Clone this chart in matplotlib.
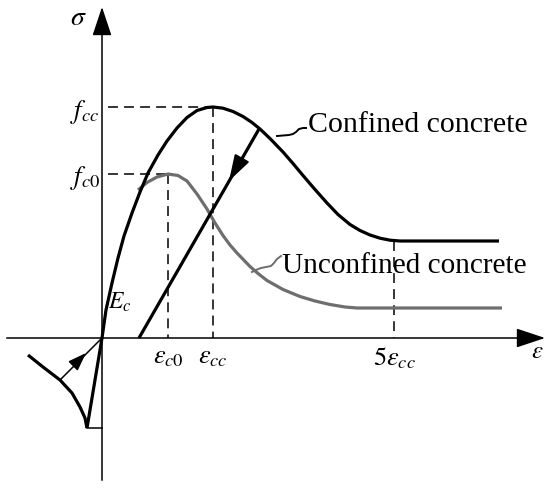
import matplotlib
matplotlib.use("Agg")
import matplotlib.pyplot as plt

plt.rcParams['mathtext.fontset'] = 'stix'
plt.rcParams['font.family'] = ['Liberation Serif', 'DejaVu Serif']

# ---- data (schematic units: strain on x, stress on y) ----
confined_eps = [0, 4, 10, 16, 22, 30, 38, 46, 56, 65, 75, 85, 95, 105, 111, 121, 131, 141,
                150, 158, 168, 181, 191, 201, 213, 225, 236, 248, 258, 268, 278, 288, 298, 397]
confined_sig = [0, 28, 55, 80, 102, 125, 146, 165, 183, 197, 210, 220.5, 227.5, 230.5, 231, 229.8,
                226.5, 221.5, 215.5, 209, 199.5, 186, 174.5, 162.5, 148.5, 135, 123.5, 113.5,
                107.5, 103, 99.8, 97.8, 97, 97]

unconf_eps = [36, 45, 55, 66, 76, 85, 95, 105, 113, 121, 128, 135, 148, 156, 165, 181, 198,
              213, 228, 243, 255, 400]
unconf_sig = [148, 155.5, 161, 164, 162.5, 157, 144, 129, 115, 102.5, 93, 85, 71.5, 64.5, 57.5,
              48.5, 41.5, 37, 33.5, 31, 30, 30]

unload_eps = [157, 37]
unload_sig = [209, 0]

tension_eps = [-74, -59, -42, -30, -22, -17, -15]
tension_sig = [-17, -29, -42, -55, -69, -80, -90]
ec_line_eps = [-15, 0]
ec_line_sig = [-90, 0]

eps_c0, eps_cc, eps_5cc = 66, 111, 292
f_c0, f_cc, f_res = 164, 231, 97

conf_leader_eps = [175, 181, 187, 191, 194, 197, 201, 204]
conf_leader_sig = [202, 202.5, 203, 204, 206, 209, 210, 210]
unconf_leader_eps = [150, 154, 159, 164, 169, 172, 175, 179]
unconf_leader_sig = [66, 68, 70, 71, 72, 75, 79, 82]

tick_labels = [r'$\varepsilon_{c0}$', r'$\varepsilon_{cc}$', r'$5\varepsilon_{cc}$']
stress_labels = [r'$f_{cc}$', r'$f_{c0}$']

# ---- figure ----
fig = plt.figure(figsize=(5.5, 4.91), dpi=100)
ax = fig.add_axes([0, 0, 1, 1])
ax.set_xlim(-102, 448)
ax.set_ylim(-153, 338)
ax.axis('off')

axlw = 1.1
# axes with arrows
ax.plot([-95, 430], [0, 0], color='black', lw=axlw)
ax.annotate('', xy=(443, 0), xytext=(420, 0),
            arrowprops=dict(arrowstyle='-|>,head_length=0.9,head_width=0.3', color='black',
                            lw=axlw, shrinkA=0, shrinkB=0, mutation_scale=20))
ax.plot([0, 0], [-142, 315], color='black', lw=axlw)
ax.annotate('', xy=(0, 331), xytext=(0, 305),
            arrowprops=dict(arrowstyle='-|>,head_length=0.9,head_width=0.3', color='black',
                            lw=axlw, shrinkA=0, shrinkB=0, mutation_scale=20))

# dashed reference lines
dash = dict(color='black', lw=axlw, dashes=(6.5, 4))
ax.plot([6, eps_cc], [f_cc, f_cc], **dash)
ax.plot([eps_cc, eps_cc], [f_cc, 0], **dash)
ax.plot([6, eps_c0], [f_c0, f_c0], **dash)
ax.plot([eps_c0, eps_c0], [f_c0, 0], **dash)
ax.plot([eps_5cc, eps_5cc], [f_res, 0], **dash)

# curves
ax.plot(unconf_eps, unconf_sig, color='#6e6e6e', lw=2.3, solid_capstyle='butt', solid_joinstyle='round')
ax.plot(confined_eps, confined_sig, color='black', lw=2.3, solid_capstyle='butt', solid_joinstyle='round')
ax.plot(unload_eps, unload_sig, color='black', lw=2.3, solid_capstyle='butt')
ax.annotate('', xy=(127, 157), xytext=(140, 180),
            arrowprops=dict(arrowstyle='-|>,head_length=0.8,head_width=0.25', color='black',
                            lw=1.5, shrinkA=0, shrinkB=0, mutation_scale=20))

# branch on negative side
ax.plot(tension_eps, tension_sig, color='black', lw=2.3, solid_capstyle='butt', solid_joinstyle='round')
ax.plot(ec_line_eps, ec_line_sig, color='black', lw=2.3, solid_capstyle='butt')
ax.plot([-15, 0], [-90, -90], color='black', lw=axlw)
ax.plot([-42, -2], [-42, -2], color='black', lw=1.1)
ax.annotate('', xy=(-16, -15), xytext=(-26, -25),
            arrowprops=dict(arrowstyle='-|>,head_length=0.7,head_width=0.25', color='black',
                            lw=1.1, shrinkA=0, shrinkB=0, mutation_scale=16))

# leaders
ax.plot(conf_leader_eps, conf_leader_sig, color='black', lw=1.4)
ax.plot(unconf_leader_eps, unconf_leader_sig, color='#6e6e6e', lw=1.4)

# texts
fs = 19
ax.text(-24, 320, r'$\sigma$', fontsize=20, ha='center', va='center')
ax.text(435, -14, r'$\varepsilon$', fontsize=18, ha='center', va='center')
ax.text(18, 36, r'$E_c$', fontsize=17, ha='center', va='center')
ax.text(-17, 226, stress_labels[0], fontsize=fs, ha='center', va='center')
ax.text(-17, 160, stress_labels[1], fontsize=fs, ha='center', va='center')
for x, lab in zip([eps_c0, eps_cc, eps_5cc], tick_labels):
    ax.text(x, -20, lab, fontsize=fs, ha='center', va='center')

ax.text(206, 206, 'Confined concrete', fontsize=21.5, ha='left', va='baseline')
ax.text(180, 65, 'Unconfined concrete', fontsize=21.1, ha='left', va='baseline')

fig.savefig('out.png', dpi=100, facecolor='white')
